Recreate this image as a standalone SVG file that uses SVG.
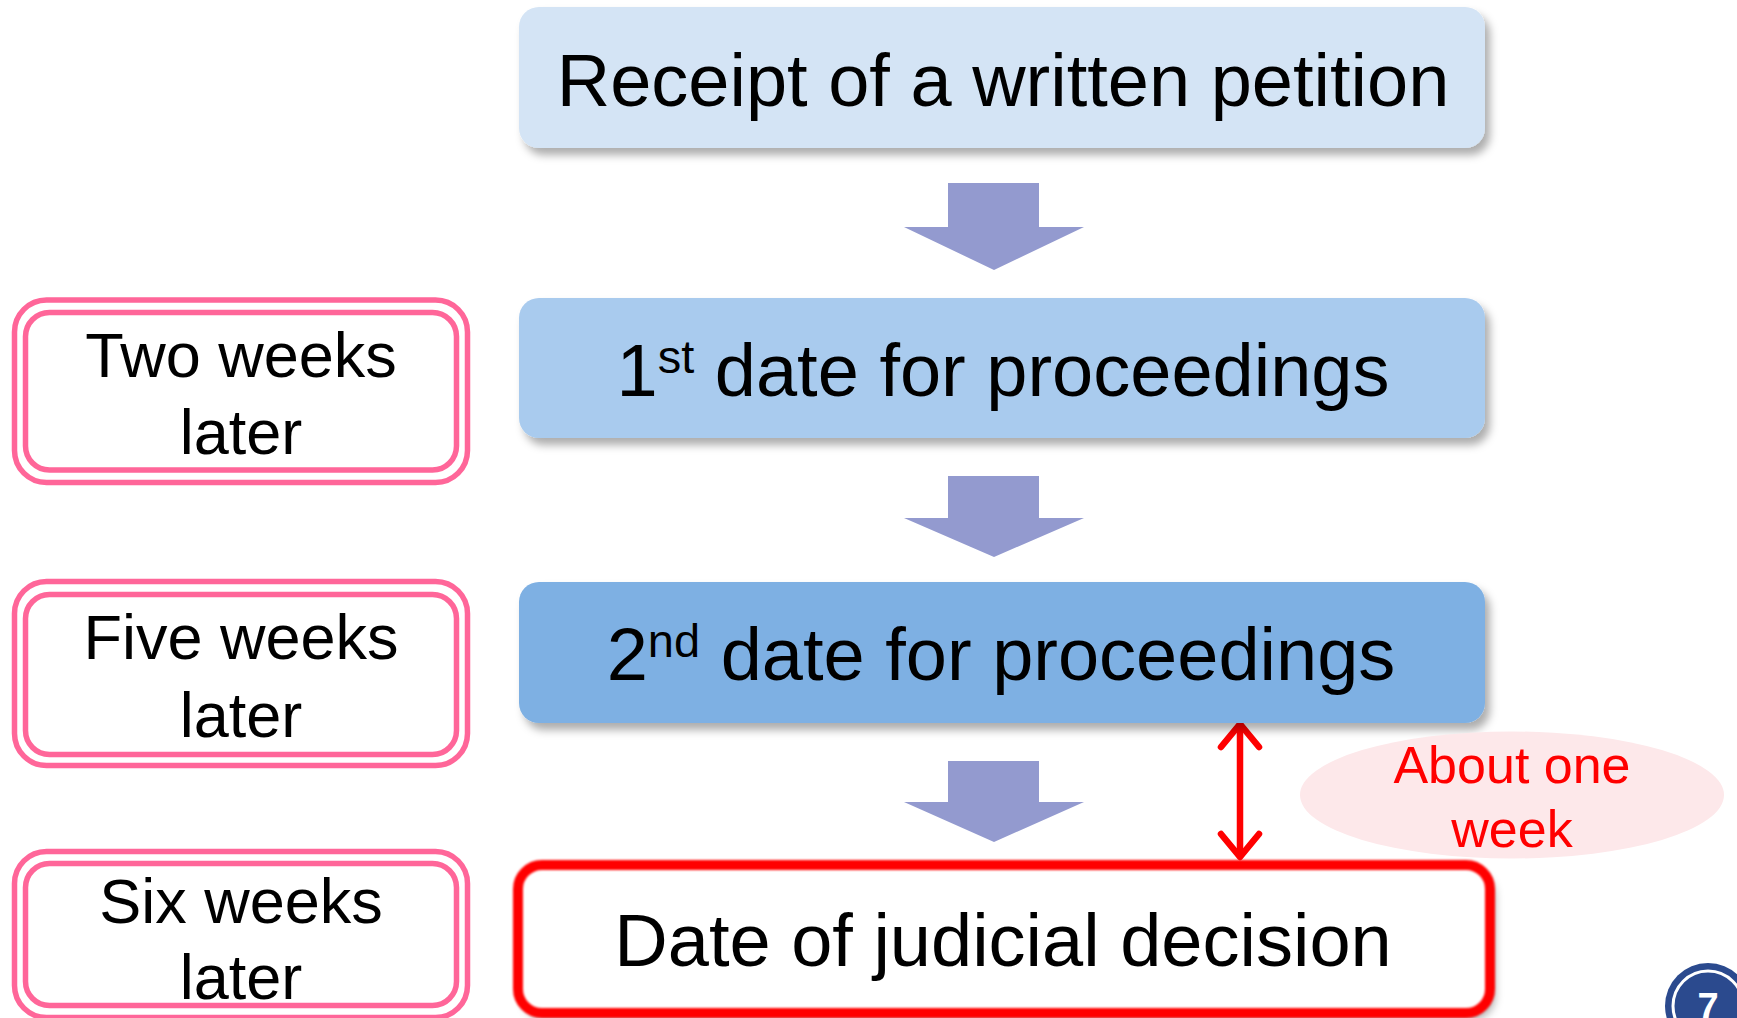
<svg xmlns="http://www.w3.org/2000/svg" width="1737" height="1018" viewBox="0 0 1737 1018">
  <defs>
    <style>
      .t { font-family: "Liberation Sans", Arial, sans-serif; fill: #000; }
      .main { font-size: 74px; text-anchor: middle; }
      .side { font-size: 63px; text-anchor: middle; }
      .ring { fill: none; stroke: #ff6699; stroke-width: 5.5; }
      .blk { fill: #939acf; }
      .red { fill: none; stroke: #ff0000; stroke-width: 6.5; stroke-linecap: round; stroke-linejoin: round; }
    </style>
    <filter id="sh" x="-5%" y="-20%" width="112%" height="150%">
      <feDropShadow dx="5" dy="7" stdDeviation="4" flood-color="#000" flood-opacity="0.32"/>
    </filter>
    <filter id="soft" x="-5%" y="-10%" width="110%" height="125%">
      <feGaussianBlur stdDeviation="1.1"/>
    </filter>
  </defs>
  <rect x="0" y="0" width="1737" height="1018" fill="#ffffff"/>

  <g id="connectors">
    <polygon class="blk" points="948,183 1039,183 1039,227 1084,227 994,270 904,227 948,227"/>
    <polygon class="blk" points="948,476 1039,476 1039,518 1084,518 994,557 904,518 948,518"/>
    <polygon class="blk" points="948,761 1039,761 1039,802 1084,802 994,842 904,802 948,802"/>
    <g id="interval-arrow">
      <line class="red" x1="1240" y1="726" x2="1240" y2="855"/>
      <polyline class="red" points="1221,747 1240,724 1259,747"/>
      <polyline class="red" points="1221,834 1240,857 1259,834"/>
    </g>
  </g>

  <g id="receipt">
    <rect x="519" y="7" width="966" height="141" rx="20" fill="#d4e4f5" filter="url(#sh)"/>
    <text class="t main" x="1003" y="106">Receipt of a written petition</text>
  </g>

  <g id="first-date">
    <rect x="519" y="298" width="966" height="140" rx="20" fill="#a9cbee" filter="url(#sh)"/>
    <text class="t main" x="1003" y="396">1<tspan font-size="47" dy="-23">st</tspan><tspan dy="23"> date for proceedings</tspan></text>
  </g>

  <g id="second-date">
    <rect x="519" y="582" width="966" height="141" rx="20" fill="#7eb0e3" filter="url(#sh)"/>
    <text class="t main" x="1001" y="680">2<tspan font-size="47" dy="-23">nd</tspan><tspan dy="23"> date for proceedings</tspan></text>
  </g>

  <g id="decision">
    <rect x="518" y="865" width="972" height="148" rx="24" fill="#ffffff" filter="url(#sh)"/>
    <rect x="518" y="865" width="972" height="148" rx="24" fill="none" stroke="#ff0000" stroke-width="10" filter="url(#soft)"/>
    <text class="t main" x="1003" y="966">Date of judicial decision</text>
  </g>

  <g id="about-one-week">
    <ellipse cx="1512" cy="795" rx="212" ry="63.5" fill="#fde8ea"/>
    <text class="t" x="1512" y="783" font-size="52" text-anchor="middle" fill="#ff0000" style="fill:#ff0000">About one</text>
    <text class="t" x="1512" y="847" font-size="52" text-anchor="middle" fill="#ff0000" style="fill:#ff0000">week</text>
  </g>

  <g id="two-weeks">
    <rect class="ring" x="14.5" y="300" width="453" height="182.5" rx="32"/>
    <rect class="ring" x="25.5" y="312.5" width="431" height="157.5" rx="24"/>
    <text class="t side" x="241" y="377">Two weeks</text>
    <text class="t side" x="241" y="454">later</text>
  </g>

  <g id="five-weeks">
    <rect class="ring" x="14.5" y="581.5" width="453" height="184" rx="32"/>
    <rect class="ring" x="25.5" y="594.5" width="431" height="160" rx="24"/>
    <text class="t side" x="241" y="659">Five weeks</text>
    <text class="t side" x="241" y="737">later</text>
  </g>

  <g id="six-weeks">
    <rect class="ring" x="14.5" y="851.5" width="453" height="166" rx="32"/>
    <rect class="ring" x="25.5" y="863.5" width="431" height="142" rx="24"/>
    <text class="t side" x="241" y="923">Six weeks</text>
    <text class="t side" x="241" y="999">later</text>
  </g>

  <g id="page-badge">
    <circle cx="1708" cy="1006" r="43" fill="#2b4a8e"/>
    <circle cx="1708" cy="1006" r="35" fill="none" stroke="#ffffff" stroke-width="3"/>
    <text x="1708" y="1020" font-family="Liberation Sans, Arial, sans-serif" font-weight="bold" font-size="38" text-anchor="middle" fill="#ffffff">7</text>
  </g>
</svg>
